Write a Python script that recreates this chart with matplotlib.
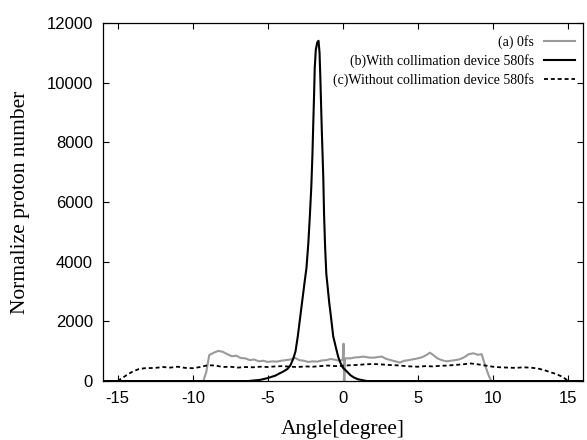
import matplotlib
matplotlib.use("Agg")
import matplotlib.pyplot as plt
import numpy as np

plt.rcParams["axes.unicode_minus"] = False

# (a) 0fs
angle_a = [-16, -9.3, -9.1, -8.9, -8.6, -8.3, -8.0, -7.7, -7.4, -7.1, -6.8, -6.5, -6.2, -5.9,
           -5.6, -5.3, -5.0, -4.7, -4.4, -4.1, -3.8, -3.5, -3.2, -2.9, -2.6, -2.3, -2.0, -1.7,
           -1.4, -1.1, -0.8, -0.5, -0.2, 0.0, 0.05, 0.1, 0.15, 0.5, 0.8, 1.1, 1.4, 1.7, 2.0,
           2.3, 2.6, 2.9, 3.2, 3.5, 3.8, 4.1, 4.4, 4.7, 5.0, 5.3, 5.6, 5.8, 6.0, 6.3, 6.6, 6.9,
           7.2, 7.5, 7.8, 8.1, 8.4, 8.7, 9.0, 9.25, 9.5, 9.75, 9.9, 16]
count_a = [0, 0, 300, 870, 950, 1010, 980, 900, 830, 850, 770, 760, 700, 720,
           660, 680, 640, 660, 650, 680, 700, 720, 780, 700, 680, 640, 660, 650,
           690, 700, 740, 710, 680, 720, 1250, 0, 760, 760, 790, 800, 820, 790, 780,
           800, 820, 740, 700, 660, 620, 680, 700, 730, 760, 800, 880, 950, 880, 760, 700, 660,
           680, 700, 730, 800, 900, 930, 880, 900, 500, 150, 0, 0]

# (b) with collimation device 580fs
angle_b = [-16, -6.3, -5.5, -5.0, -4.5, -4.2, -4.0, -3.7, -3.5, -3.3, -3.15, -3.0, -2.85, -2.7,
           -2.55, -2.42, -2.3, -2.2, -2.1, -2.03, -1.97, -1.92, -1.87, -1.8, -1.7, -1.62,
           -1.55, -1.5, -1.45, -1.4, -1.35, -1.3, -1.25, -1.18, -1.1, -1.0, -0.9, -0.8,
           -0.64, -0.45, -0.3, -0.15, 0.0, 0.25, 0.5, 0.7, 1.0, 1.6, 16]
count_b = [0, 0, 40, 100, 180, 260, 310, 400, 520, 750, 1000, 1500, 2100, 2700,
           3300, 3800, 4600, 5500, 6500, 7500, 8600, 9500, 10500, 11100, 11350, 11400,
           11000, 10200, 9300, 8400, 7600, 6800, 5600, 4500, 3600, 3100, 2600, 2200,
           1500, 1100, 800, 600, 450, 330, 200, 130, 60, 0, 0]

# (c) without collimation device 580fs
angle_c = [-15.0, -14.7, -14.4, -14.0, -13.6, -13.2, -12.5, -12.0, -11.5, -11.0, -10.5, -10.0,
           -9.5, -9.0, -8.5, -8.0, -7.5, -7.0, -6.5, -6.0, -5.5, -5.0, -4.5, -4.0, -3.5, -3.0,
           -2.5, -2.0, -1.5, -1.0, -0.5, 0.0, 0.5, 1.0, 1.5, 2.0, 2.5, 3.0, 3.5, 4.0, 4.5, 5.0,
           5.5, 6.0, 6.5, 7.0, 7.5, 8.0, 8.5, 9.0, 9.5, 10.0, 10.5, 11.0, 11.5, 12.0, 12.5,
           13.0, 13.4, 13.8, 14.2, 14.6, 14.9, 15.0]
count_c = [0, 100, 200, 320, 400, 430, 440, 470, 450, 480, 440, 430,
           470, 530, 520, 470, 480, 450, 470, 460, 480, 470, 490, 500, 480, 470,
           490, 480, 500, 520, 500, 510, 530, 540, 560, 570, 560, 540, 530, 510, 490, 480,
           500, 490, 510, 520, 540, 560, 590, 560, 520, 480, 460, 450, 440, 460, 450,
           420, 370, 300, 240, 150, 50, 0]

x_ticks = [-15, -10, -5, 0, 5, 10, 15]
y_ticks = [0, 2000, 4000, 6000, 8000, 10000, 12000]

serif = "Liberation Serif"
sans = "Liberation Sans"

fig = plt.figure(figsize=(5.87, 4.4), dpi=100)
ax = fig.add_axes([0.175, 0.134, 0.818, 0.814])

ax.plot(angle_a, count_a, color="#9a9a9a", lw=1.5, label="(a) 0fs")
ax.plot(angle_b, count_b, color="black", lw=1.5, label="(b)With collimation device 580fs")
ax.plot(angle_c, count_c, color="black", lw=1.3, linestyle=(0, (2.2, 1.6)),
        label="(c)Without collimation device 580fs")

ax.set_xlim(-16, 16)
ax.set_ylim(0, 12000)
ax.set_xticks(x_ticks)
ax.set_yticks(y_ticks)
ax.tick_params(direction="in", length=4, width=0.8, top=True, right=True,
               labelsize=12, pad=7)
for lab in ax.get_xticklabels() + ax.get_yticklabels():
    lab.set_fontfamily(sans)
for s in ax.spines.values():
    s.set_linewidth(0.9)

ax.set_xlabel("Angle[degree]", fontfamily=serif, fontsize=15.5, labelpad=10.5)
ax.set_ylabel("Normalize proton number", fontfamily=serif, fontsize=15.5, labelpad=12)

ax.legend(loc="upper right", bbox_to_anchor=(0.995, 0.982), frameon=False,
          markerfirst=False, prop={"family": serif, "size": 10}, handlelength=2.2,
          handletextpad=0.75, labelspacing=0.36, borderaxespad=0, borderpad=0.4)

fig.savefig("out.png", dpi=100)
